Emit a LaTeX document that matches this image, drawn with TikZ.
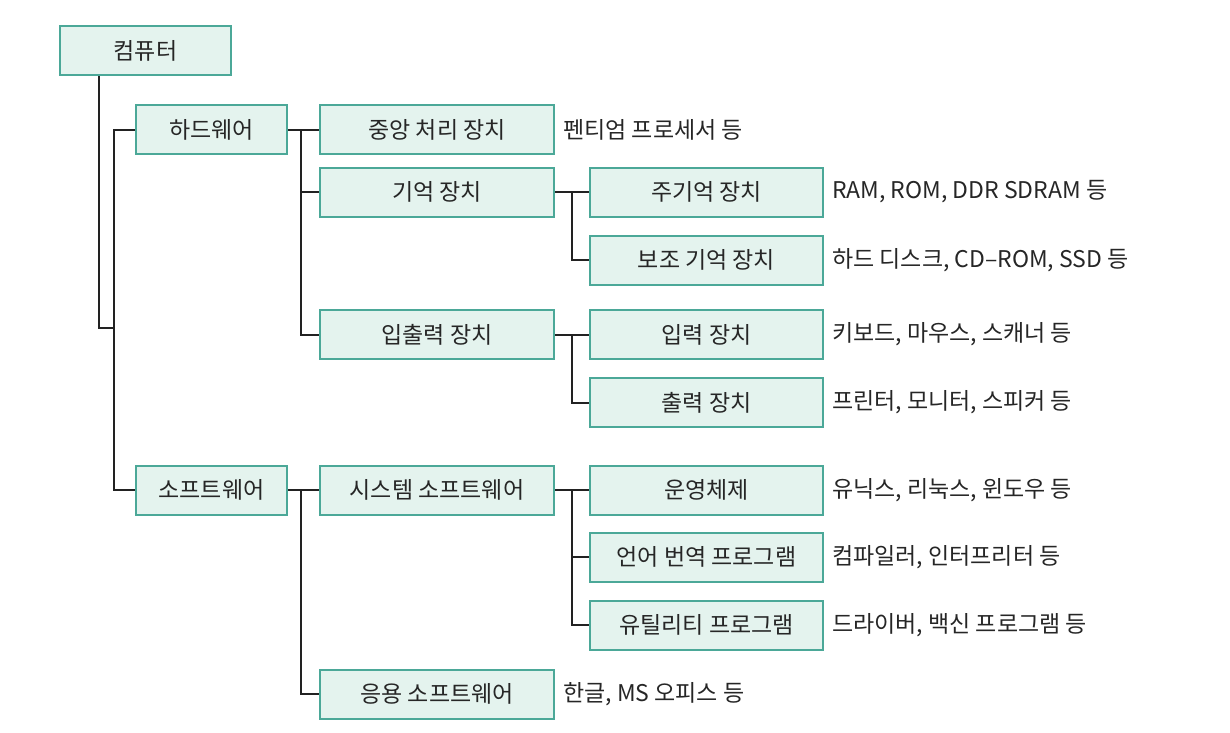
\documentclass[tikz,border=0pt]{standalone}
\usepackage{fontspec}
\setmainfont{Noto Sans CJK KR}
\usetikzlibrary{calc}
\definecolor{boxfill}{HTML}{E4F3EE}
\definecolor{boxline}{HTML}{4BA898}
\definecolor{connc}{HTML}{222222}
\definecolor{txt}{HTML}{262626}
\begin{document}
\begin{tikzpicture}[x=1pt,y=-1pt,
 box/.style={draw=boxline, fill=boxfill, line width=2pt, inner sep=0pt, minimum height=49pt, font=\fontsize{23}{27}\selectfont, text=txt},
 bzero/.style={box, minimum width=171pt},
 bone/.style={box, minimum width=151pt},
 btwo/.style={box, minimum width=234pt},
 bthree/.style={box, minimum width=233pt},
 note/.style={anchor=west, inner sep=0pt, font=\fontsize{23}{27}\selectfont, text=txt},
 conn/.style={draw=connc, line width=2pt}]
\useasboundingbox (0,0) rectangle (1230,732);
\fill[white] (0,0) rectangle (1230,732);
% boxes
\node[bzero] (com) at (145.5,50.5) {컴퓨터};
\node[bone] (hw) at (211.5,129.5) {하드웨어};
\node[bone] (sw) at (211.5,490) {소프트웨어};
\node[btwo] (cpu) at (437,129.5) {중앙 처리 장치};
\node[btwo] (mem) at (437,192) {기억 장치};
\node[btwo] (io) at (437,334.5) {입출력 장치};
\node[btwo] (sys) at (437,490) {시스템 소프트웨어};
\node[btwo] (app) at (437,694) {응용 소프트웨어};
\node[bthree] (main) at (706.5,192) {주기억 장치};
\node[bthree] (aux) at (706.5,260) {보조 기억 장치};
\node[bthree] (in) at (706.5,334.5) {입력 장치};
\node[bthree] (out) at (706.5,402.5) {출력 장치};
\node[bthree] (os) at (706.5,490) {운영체제};
\node[bthree] (lang) at (706.5,557) {언어 번역 프로그램};
\node[bthree] (util) at (706.5,625) {유틸리티 프로그램};
% notes
\node[note] (ncpu) at (563,129.5) {펜티엄 프로세서 등};
\node[note] (nmain) at (832,192) {RAM, ROM, DDR SDRAM 등};
\node[note] (naux) at (832,260) {하드 디스크, CD–ROM, SSD 등};
\node[note] (nin) at (832,334.5) {키보드, 마우스, 스캐너 등};
\node[note] (nout) at (832,402.5) {프린터, 모니터, 스피커 등};
\node[note] (nos) at (832,490) {유닉스, 리눅스, 윈도우 등};
\node[note] (nlang) at (832,557) {컴파일러, 인터프리터 등};
\node[note] (nutil) at (832,625) {드라이버, 백신 프로그램 등};
\node[note] (napp) at (563,694) {한글, MS 오피스 등};
% connector coordinates
\coordinate (tr) at (99,328);
\coordinate (bx) at (114,0);
\coordinate (cx) at (301,0);
\coordinate (dx) at (572,0);
% trunk
\draw[conn] (com.south -| tr) -- (tr) -- (tr -| bx);
\draw[conn] (hw.west) -- (hw.west -| bx) -- (sw.west -| bx) -- (sw.west);
% hardware
\draw[conn] (hw.east) -- (cpu.west);
\draw[conn] (hw.east -| cx) -- (io.west -| cx) -- (io.west);
\draw[conn] (mem.west -| cx) -- (mem.west);
% memory
\draw[conn] (mem.east) -- (main.west);
\draw[conn] (mem.east -| dx) -- (aux.west -| dx) -- (aux.west);
% io
\draw[conn] (io.east) -- (in.west);
\draw[conn] (io.east -| dx) -- (out.west -| dx) -- (out.west);
% software
\draw[conn] (sw.east) -- (sys.west);
\draw[conn] (sw.east -| cx) -- (app.west -| cx) -- (app.west);
\draw[conn] (sys.east) -- (os.west);
\draw[conn] (sys.east -| dx) -- (util.west -| dx) -- (util.west);
\draw[conn] (lang.west -| dx) -- (lang.west);
\end{tikzpicture}
\end{document}
